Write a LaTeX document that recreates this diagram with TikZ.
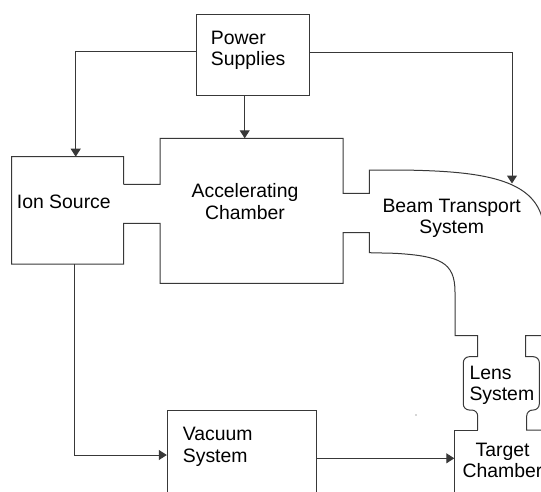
\documentclass[tikz,border=0pt]{standalone}
\usepackage{fontspec}
\setmainfont{Liberation Sans}
\usetikzlibrary{arrows.meta,calc}
\begin{document}
\begin{tikzpicture}[x=1pt,y=-1pt,
  ln/.style={draw=black!78,line width=1pt},
  arr/.style={ln,-{Triangle[width=10pt,length=8pt]}},
  boxshape/.style={ln,rectangle,inner sep=0pt},
  lbl/.style={inner sep=0pt,font=\fontsize{19.4}{21.5}\selectfont}]
\useasboundingbox (0,0) rectangle (541,491);
% boxes as nodes
\node[boxshape,minimum width=113.4pt,minimum height=81.7pt] (ps) at (253,54.85) {};
\node[boxshape,minimum width=148.7pt,minimum height=120pt] (vac) at (241.65,470) {};
% labels
\node[lbl,anchor=west,align=left] (pstext) at (210.7,50.5) {Power\\Supplies};
\node[lbl,anchor=west] (iontext) at (16.7,201.7) {Ion Source};
\node[lbl,align=center] (acctext) at (245,201.5) {Accelerating\\Chamber};
\node[lbl,align=center] (btstext) at (451.7,218.5) {Beam Transport\\System};
\node[lbl,anchor=west,align=left] (lenstext) at (469.3,385.2) {Lens\\System};
\node[lbl,anchor=west,align=left] (vactext) at (182.7,446.8) {Vacuum\\System};
\node[lbl,align=center] (tgttext) at (502.5,460.6) {Target\\Chamber};
% named points on the drawn outlines
\coordinate (istop) at (75.7,156.7);
\coordinate (isbot) at (74.3,264);
\coordinate (acctop) at (244.7,138.3);
\coordinate (btop) at (512,183.5);
\coordinate (tgtL) at (454.3,458.3);
% upper outline: ion source, accelerating chamber, beam transport (lower wall), lens left side
\draw[ln] (123.7,184.3) -- (123.7,156.7) -- (11.7,156.7) -- (11.7,264) -- (123.7,264) -- (123.7,223.3)
  -- (160,223.3) -- (160,283.3) -- (343,283.3) -- (343,232.7) -- (369.3,232.7) -- (369.3,252.7)
  -- (395,253.3) .. controls (440,256) and (455,262) .. (455,292) -- (455,335.7) -- (477.7,335.7)
  -- (477.7,356.7) [rounded corners=6pt] -- (463.3,356.7) -- (463.3,410) -- (477.7,410) [sharp corners]
  -- (477.7,430);
% upper wall
\draw[ln] (123.7,184.3) -- (160,184.3) -- (160,138.3) -- (343,138.3) -- (343,193.3) -- (369.3,193.3)
  -- (369.3,170) -- (400,170) .. controls (480,171) and (535,178) .. (543,222);
% right wall of lens and target chamber
\draw[ln] (545,335.7) -- (525.7,335.7) -- (525.7,356.7) [rounded corners=6pt] -- (539.3,356.7)
  -- (539.3,410) -- (526.7,410) [sharp corners] -- (526.7,430) -- (545,430);
\draw[ln] (454.3,500) -- (454.3,430) -- (477.7,430);
% stray dot
\fill[black!70] (416,415) circle (0.7);
% connectors
\draw[arr] ([yshift=3.15pt]ps.west) -| (istop);
\draw[arr] ([yshift=2.85pt]ps.east) -| (btop);
\draw[arr] (acctop |- ps.south) -- (acctop);
\draw[arr] (isbot) |- ([yshift=15pt]vac.west);
\draw[arr] ([yshift=11.7pt]vac.east) -- (tgtL);
\end{tikzpicture}
\end{document}
